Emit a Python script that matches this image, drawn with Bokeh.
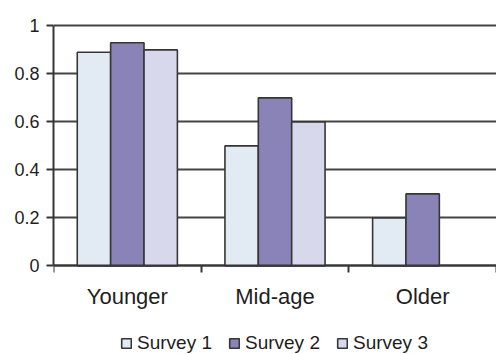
import numpy as np
from bokeh.plotting import figure
from bokeh.models import Range1d, FixedTicker, Legend, LegendItem, ColumnDataSource
from bokeh.embed import file_html
from bokeh.resources import INLINE

# Data
categories = ["Younger", "Mid-age", "Older"]
series_names = ["Survey 1", "Survey 2", "Survey 3"]
survey1 = [0.89, 0.50, 0.20]
survey2 = [0.93, 0.70, 0.30]
survey3 = [0.90, 0.60, np.nan]
y_ticks = [0, 0.2, 0.4, 0.6, 0.8, 1]
y_tick_labels = ["0", "0.2", "0.4", "0.6", "0.8", "1"]

colors = ["#e2eaf4", "#8a83b8", "#d8d8ec"]
FONT = "Liberation Sans"
TEXT = "#1e1e1e"
DARK = "#363636"

n = len(categories)
FRAME_W, FRAME_H = 443, 331
PX_PER_UNIT = 240          # vertical pixels for a value span of 1
Y_TOP = 1.01
# The frame runs to the bottom of the canvas so the category labels and the
# legend can sit inside it, under the x axis pinned at y = 0.
p = figure(frame_width=FRAME_W, frame_height=FRAME_H, output_backend="svg",
           toolbar_location=None,
           x_range=Range1d(0, n), y_range=Range1d(Y_TOP - FRAME_H / PX_PER_UNIT, Y_TOP),
           min_border_left=53, min_border_right=0, min_border_top=23,
           min_border_bottom=0)
p.outline_line_color = None
p.background_fill_color = "white"
p.border_fill_color = "white"

bar_w = 0.226
offsets = [-bar_w, 0.0, bar_w]
centers = np.arange(n) + 0.5
items = []
for name, vals, off, col in zip(series_names, [survey1, survey2, survey3], offsets, colors):
    src = ColumnDataSource(dict(x=centers + off, top=np.array(vals, dtype=float)))
    r = p.vbar(x="x", top="top", width=bar_w, bottom=0, source=src,
               fill_color=col, line_color=DARK, line_width=1.6)
    items.append(LegendItem(label=name, renderers=[r]))

# Grid
p.xgrid.grid_line_color = None
p.ygrid.grid_line_color = "#444444"
p.ygrid.grid_line_width = 2
p.ygrid.ticker = FixedTicker(ticks=y_ticks)

# Y axis
p.yaxis.ticker = FixedTicker(ticks=y_ticks)
p.yaxis.bounds = (0, 1)
p.yaxis.major_label_overrides = dict(zip(y_ticks, y_tick_labels))
p.yaxis.axis_line_color = DARK
p.yaxis.axis_line_width = 2
p.yaxis.major_tick_line_color = DARK
p.yaxis.major_tick_line_width = 2
p.yaxis.major_tick_out = 7
p.yaxis.major_tick_in = 0
p.yaxis.minor_tick_line_color = None
p.yaxis.major_label_standoff = 7
p.yaxis.major_label_text_font = FONT
p.yaxis.major_label_text_font_size = "18px"
p.yaxis.major_label_text_color = TEXT

# X axis at y = 0: labels at category centres, ticks at category boundaries
p.xaxis.fixed_location = 0
p.xaxis.bounds = (0, n)
p.xaxis.ticker = FixedTicker(ticks=list(centers), minor_ticks=list(range(n + 1)))
p.xaxis.major_label_overrides = {float(c): lab for c, lab in zip(centers, categories)}
p.xaxis.axis_line_color = DARK
p.xaxis.axis_line_width = 2
p.xaxis.major_tick_line_color = None
p.xaxis.major_tick_out = 0
p.xaxis.major_tick_in = 0
p.xaxis.minor_tick_line_color = DARK
p.xaxis.minor_tick_line_width = 2
p.xaxis.minor_tick_out = 7
p.xaxis.minor_tick_in = 0
p.xaxis.major_label_standoff = 11
p.xaxis.major_label_text_font = FONT
p.xaxis.major_label_text_font_size = "22px"
p.xaxis.major_label_text_color = TEXT

legend = Legend(items=items, orientation="horizontal", location=(67, 0),
                label_text_font=FONT, label_text_font_size="19px",
                label_text_color=TEXT, glyph_width=12, glyph_height=12,
                label_standoff=5, spacing=16, padding=0, margin=0,
                border_line_color=None, background_fill_alpha=0)
p.add_layout(legend, "center")

open("out.html", "w").write(file_html(p, INLINE))
